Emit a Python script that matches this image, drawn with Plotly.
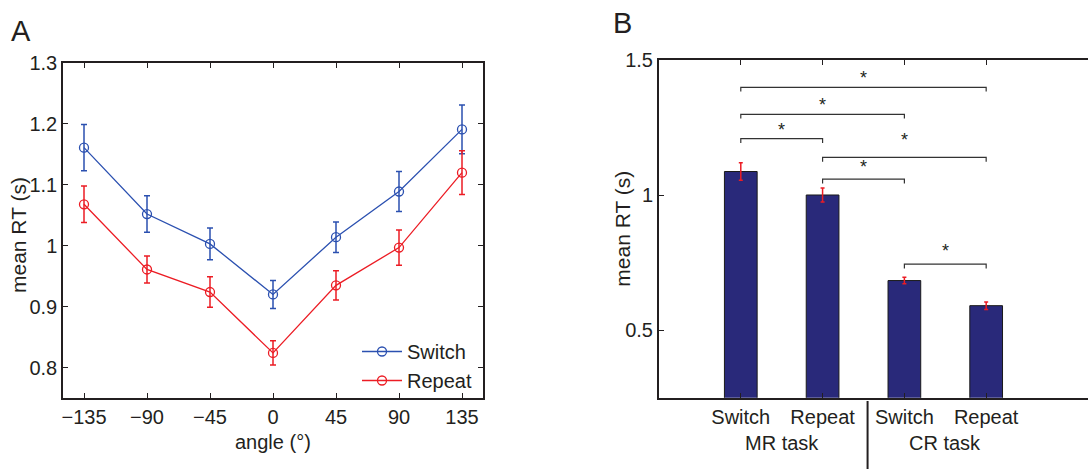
import plotly.graph_objects as go

# ---------------- data ----------------
angles = [-135, -90, -45, 0, 45, 90, 135]
switch_rt = [1.161, 1.052, 1.003, 0.920, 1.014, 1.089, 1.191]
switch_err = [0.038, 0.030, 0.026, 0.023, 0.025, 0.033, 0.040]
repeat_rt = [1.068, 0.961, 0.924, 0.824, 0.935, 0.997, 1.120]
repeat_err = [0.030, 0.022, 0.025, 0.020, 0.024, 0.029, 0.036]

bar_pos = [1, 2, 3, 4]
bar_labels = ["Switch", "Repeat", "Switch", "Repeat"]
bar_rt = [1.088, 1.001, 0.684, 0.591]
bar_err = [0.032, 0.026, 0.012, 0.014]
task_labels = ["MR task", "CR task"]
task_pos = [1.5, 3.5]

# significance comparisons
comp_left = [1, 1, 1, 2, 2, 3]
comp_right = [4, 3, 2, 4, 3, 4]
comp_height = [1.400, 1.300, 1.210, 1.140, 1.060, 0.745]
star_x = [2.5, 2.0, 1.5, 3.0, 2.5, 3.5]
star_y = [1.449, 1.349, 1.256, 1.219, 1.118, 0.808]

# ---------------- style ----------------
FONT = "Liberation Sans, Arial, sans-serif"
TXT = "#231f20"
BLUE = "#2b50b0"
RED = "#ec1c24"
NAVY = "#29297a"
FS = 20

W, H = 1088, 469


def px_x(p):
    return p / W


def px_y(p):
    return (H - p) / H


fig = go.Figure()

# Panel A data traces
for yv, ev, col, nm in [(switch_rt, switch_err, BLUE, "Switch"),
                        (repeat_rt, repeat_err, RED, "Repeat")]:
    fig.add_trace(go.Scatter(
        x=angles, y=yv, mode="lines+markers", name=nm, showlegend=False,
        line=dict(color=col, width=1.3),
        marker=dict(symbol="circle-open", size=9, color=col, line=dict(width=1.3)),
        error_y=dict(type="data", array=ev, color=col, thickness=1.5, width=3),
        xaxis="x", yaxis="y"))
# legend entries (same styling, no error bars)
for col, nm in [(BLUE, "Switch"), (RED, "Repeat")]:
    fig.add_trace(go.Scatter(
        x=[None], y=[None], mode="lines+markers", name=nm,
        line=dict(color=col, width=1.3),
        marker=dict(symbol="circle-open", size=9, color=col, line=dict(width=1.3)),
        xaxis="x", yaxis="y"))

# Panel B
fig.add_trace(go.Bar(
    x=bar_pos, y=bar_rt, width=0.4, showlegend=False,
    marker=dict(color=NAVY, line=dict(color="#1a1a1a", width=1)),
    error_y=dict(type="data", array=bar_err, color=RED, thickness=1.5, width=2),
    xaxis="x2", yaxis="y2"))

drop = 0.016
for l, r, h in zip(comp_left, comp_right, comp_height):
    fig.add_trace(go.Scatter(
        x=[l, l, r, r], y=[h - drop, h, h, h - drop], mode="lines",
        line=dict(color="#333333", width=1.2), showlegend=False,
        hoverinfo="skip", xaxis="x2", yaxis="y2"))

annotations = []
for sx, sy in zip(star_x, star_y):
    annotations.append(dict(x=sx, y=sy, xref="x2", yref="y2", text="*",
                            showarrow=False, xanchor="center", yanchor="middle", yshift=-4,
                            font=dict(family=FONT, size=18, color=TXT)))
for t, p in zip(task_labels, task_pos):
    annotations.append(dict(x=p, y=px_y(443), xref="x2", yref="paper", text=t,
                            showarrow=False, xanchor="center", yanchor="middle",
                            font=dict(family=FONT, size=FS, color=TXT)))

annotations += [
    dict(x=px_x(272.7), y=px_y(441.7), xref="paper", yref="paper", text="angle (°)",
         showarrow=False, xanchor="center", yanchor="middle",
         font=dict(family=FONT, size=FS, color=TXT)),
    dict(x=px_x(18), y=px_y(235), xref="paper", yref="paper", text="mean RT (s)",
         textangle=-90, showarrow=False, xanchor="center", yanchor="middle",
         font=dict(family=FONT, size=21, color=TXT)),
    dict(x=px_x(621.7), y=px_y(229), xref="paper", yref="paper", text="mean RT (s)",
         textangle=-90, showarrow=False, xanchor="center", yanchor="middle",
         font=dict(family=FONT, size=21, color=TXT)),
    dict(x=px_x(21), y=px_y(31), xref="paper", yref="paper", text="A",
         showarrow=False, xanchor="center", yanchor="middle",
         font=dict(family=FONT, size=29, color=TXT)),
    dict(x=px_x(622.5), y=px_y(22.5), xref="paper", yref="paper", text="B",
         showarrow=False, xanchor="center", yanchor="middle",
         font=dict(family=FONT, size=29, color=TXT)),
]

shapes = [dict(type="line", xref="x2", yref="paper", x0=2.55, x1=2.55,
               y0=px_y(401), y1=0, line=dict(color=TXT, width=2))]

axis_common = dict(showgrid=False, zeroline=False, showline=True, linecolor=TXT,
                   ticks="inside", ticklen=5, tickcolor=TXT, automargin=False,
                   tickfont=dict(family=FONT, size=FS, color=TXT))

fig.update_layout(
    width=W, height=H, margin=dict(l=0, r=0, t=0, b=0, autoexpand=False),
    paper_bgcolor="white", plot_bgcolor="white",
    font=dict(family=FONT, size=FS, color=TXT),
    xaxis=dict(domain=[px_x(63), px_x(483)], range=[-150, 150],
               tickvals=angles, mirror="ticks", linewidth=1.5, anchor="y",
               **axis_common),
    yaxis=dict(domain=[px_y(398), px_y(63)], range=[0.75, 1.3],
               tickvals=[0.8, 0.9, 1.0, 1.1, 1.2, 1.3],
               ticktext=["0.8", "0.9", "1", "1.1", "1.2", "1.3"],
               mirror="ticks", linewidth=1.5, anchor="x", **axis_common),
    xaxis2=dict(domain=[px_x(659), 1.0], range=[0, 5.245],
                tickvals=bar_pos, ticktext=bar_labels, mirror="ticks",
                linewidth=2, anchor="y2", **axis_common),
    yaxis2=dict(domain=[px_y(397.7), px_y(60.3)], range=[0.25, 1.5],
                tickvals=[0.5, 1.0, 1.5], ticktext=["0.5", "1", "1.5"],
                mirror=False, linewidth=2, anchor="x2", **axis_common),
    legend=dict(x=px_x(357), y=px_y(332), xanchor="left", yanchor="top",
                bgcolor="rgba(0,0,0,0)", font=dict(family=FONT, size=FS, color=TXT),
                itemwidth=40),
    annotations=annotations, shapes=shapes,
)

fig.write_html("out.html")
